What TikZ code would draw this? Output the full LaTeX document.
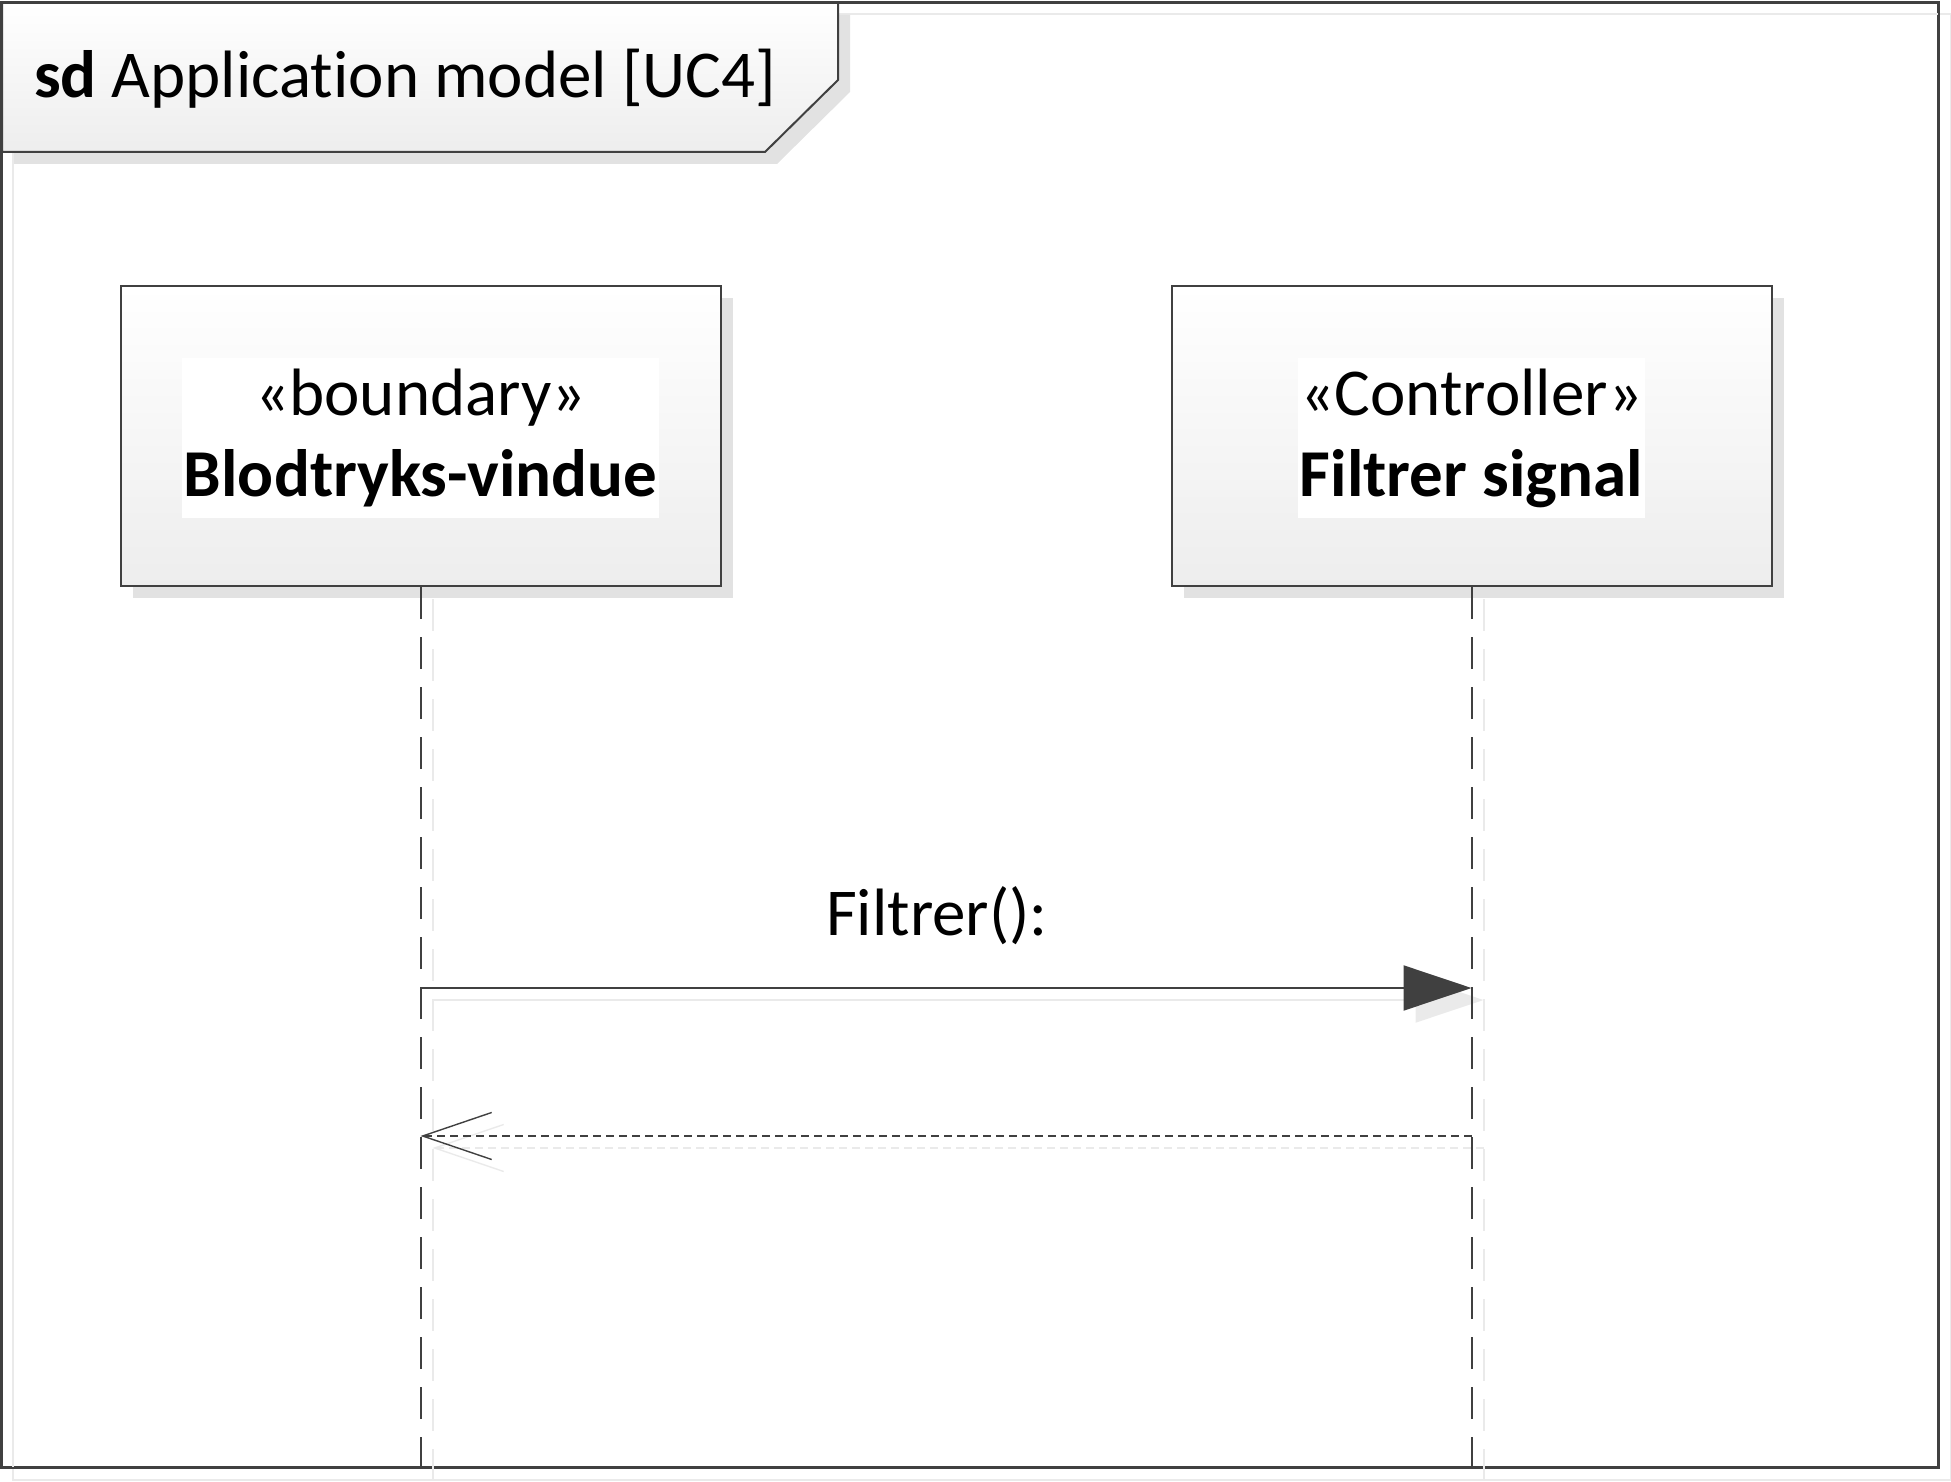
\documentclass[tikz,border=0pt]{standalone}
\usepackage{fontspec}
\setmainfont{Carlito}[Ligatures=NoCommon]
\usepackage{tikz}
\usetikzlibrary{arrows.meta,shadows,calc}

\definecolor{linec}{RGB}{64,64,64}
\definecolor{shadec}{RGB}{226,226,226}
\definecolor{ghostc}{RGB}{234,234,234}

\begin{document}
\begin{tikzpicture}[
  x=0.5pt, y=-0.5pt,
  font=\fontsize{33.5}{40.5}\selectfont,
  line width=1pt,
  frame/.style={draw=linec, minimum width=968pt, minimum height=732pt, inner sep=0pt},
  head/.style={draw=linec, top color=white, bottom color=black!7,
    minimum width=300pt, minimum height=150pt, inner sep=0pt,
    drop shadow={shadow xshift=6pt, shadow yshift=-6pt, opacity=1, fill=shadec}},
  stereo/.style={fill=white, align=center, inner xsep=1.2pt, inner ysep=0pt, minimum height=79.5pt},
  lldash/.style={dash pattern=on 16pt off 9pt},
  lifeline/.style={draw=linec, lldash},
  ghost/.style={draw=ghostc},
  call/.style={-{Triangle[length=34pt, width=22.5pt]}},
  reply/.style={line width=0.7pt, dash pattern=on 4pt off 2.5pt,
    -{Straight Barb[length=34.5pt, width=23.5pt]}},
  msglbl/.style={anchor=base, inner sep=0pt}
]
\useasboundingbox (0,0) rectangle (1951,1482);

% ── Frame with title tab ──
\node[frame] (sd) at (970,735) {};
\draw[ghost] ($(sd.north west)+(12,12)$) rectangle ($(sd.south east)+(12,12)$);
\draw[linec] (sd.north west) rectangle (sd.south east);

\fill[shadec, shift={(12,12)}] (2,3) -- (838,3) -- (838,80) -- (765,152) -- (2,152) -- cycle;
\draw[linec, top color=white, bottom color=black!7]
  (2,3) -- (838,3) -- (838,80) -- (765,152) -- (2,152) -- cycle;
\node[anchor=base west, inner sep=0pt] (title) at (33,98)
  {\textbf{sd} Application model [UC4]};

% ── Lifeline heads ──
\node[head] (bv) at (420.5,436) {};
\node[stereo, yshift=-1pt] (bv-lbl) at (bv) {«boundary»\\\textbf{Blodtryks-vindue}};

\node[head] (fs) at (1471.5,436) {};
\node[stereo, yshift=-1pt] (fs-lbl) at (fs) {«Controller»\\\textbf{Filtrer signal}};

% message heights
\coordinate (m1) at (0,988);
\coordinate (m2) at (0,1136);

% ── Shadows of lifelines and messages ──
\draw[ghost, lldash] ($(bv.south)+(12,12)$) -- ($(bv.south |- sd.south)+(12,12)$);
\draw[ghost, lldash] ($(fs.south)+(12,12)$) -- ($(fs.south |- sd.south)+(12,12)$);
\draw[ghost, call, fill=ghostc] ($(bv.south |- m1)+(12,12)$) -- ($(fs.south |- m1)+(12,12)$);
\draw[ghost, reply] ($(fs.south |- m2)+(12,12)$) -- ($(bv.south |- m2)+(12,12)$);

% ── Lifelines ──
\draw[lifeline] (bv.south) -- (bv.south |- sd.south);
\draw[lifeline] (fs.south) -- (fs.south |- sd.south);

% ── Messages ──
\draw[linec, call, fill=linec] (bv.south |- m1) -- (fs.south |- m1);
\node[msglbl] (m1-lbl) at (937,935) {Filtrer():};

\draw[linec, reply] (fs.south |- m2) -- (bv.south |- m2);

\end{tikzpicture}
\end{document}
